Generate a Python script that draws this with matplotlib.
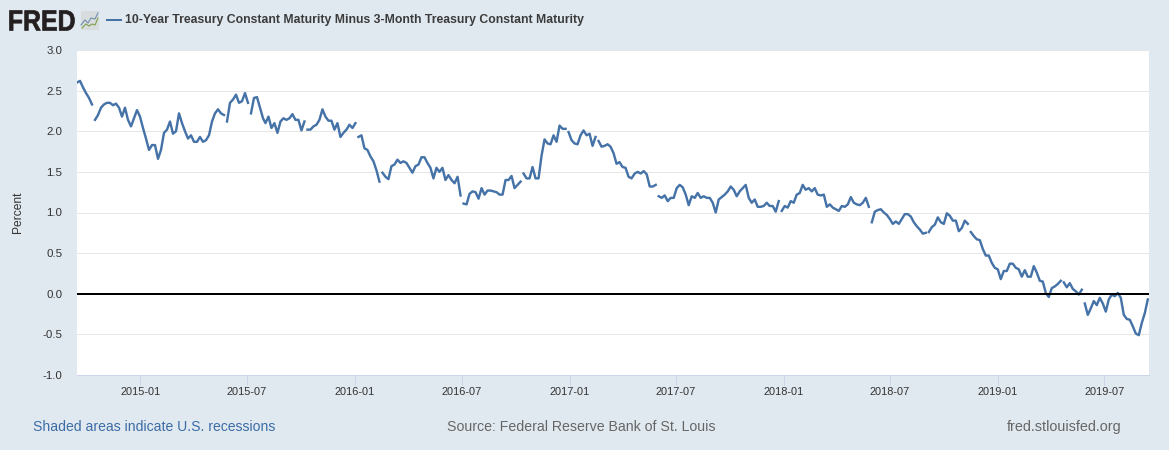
import numpy as np
import pandas as pd
import matplotlib
matplotlib.use("Agg")
import matplotlib.pyplot as plt
import matplotlib.dates as mdates
from matplotlib.patches import FancyBboxPatch, PathPatch
from matplotlib.lines import Line2D
from matplotlib.textpath import TextPath
from matplotlib.font_manager import FontProperties
from matplotlib.transforms import Affine2D

W, H = 1169, 450
TITLE = "10-Year Treasury Constant Maturity Minus 3-Month Treasury Constant Maturity"
Y_TICKS = [-1.0, -0.5, 0.0, 0.5, 1.0, 1.5, 2.0, 2.5, 3.0]
X_TICKS = ["2015-01", "2015-07", "2016-01", "2016-07", "2017-01", "2017-07",
           "2018-01", "2018-07", "2019-01", "2019-07"]
STEP_DAYS = 5.11
N = None

start_a = "2014-09-15"
vals_a = [2.60, 2.62, 2.54, 2.47, 2.41, 2.33, N, 2.14, 2.20, 2.29, 2.33, 2.35, 2.35, 2.32, 2.34,
          2.29, 2.18, 2.29, 2.14, 2.06, 2.16, 2.26, 2.18, 2.04, 1.91, 1.77, 1.83, 1.83, 1.66,
          1.77, 1.98, 2.02, 2.12, 1.97, 2.00, 2.22, 2.10, 2.00, 1.91, 1.95, 1.87, 1.87, 1.93,
          1.87, 1.89, 1.95, 2.12, 2.22, 2.27, 2.22, 2.20, N, 2.12, 2.35, 2.39, 2.45, 2.35, 2.37,
          2.47, 2.35, N, 2.22, 2.41, 2.42, 2.29, 2.16]

start_b = "2015-08-02"
vals_b = [2.10, 2.18, 2.04, 2.10, 1.98, 2.12, 2.16, 2.14, 2.16, 2.21, 2.14, 2.14, 2.01, 2.12, N,
          2.02, 2.02, 2.06, 2.08, 2.14, 2.27, 2.18, 2.13, 2.13, 2.02, 2.10, 1.93, 1.98, 2.02,
          2.08, 2.04, 2.10, N, 1.93, 1.95, 1.79, 1.77, 1.69, 1.63, 1.52, 1.38, N, 1.49, 1.44,
          1.41, 1.57, 1.59, 1.65, 1.61, 1.63, 1.61, 1.55, 1.49, 1.57, 1.59, 1.68, 1.68, 1.61,
          1.55, 1.42, 1.55, 1.50, 1.55, 1.40, 1.46]

start_c = "2016-06-14"
vals_c = [1.40, 1.36, 1.44, 1.21, N, 1.11, 1.10, 1.23, 1.26, 1.25, 1.17, 1.30, 1.22, 1.27, 1.27,
          1.26, 1.25, 1.22, 1.22, 1.40, 1.40, 1.45, 1.30, 1.34, 1.38, N, 1.48, 1.42, 1.42, 1.56,
          1.42, 1.42, 1.70, 1.90, 1.85, 1.84, 1.95, 1.87, 2.07, 2.03, 2.03, N, 1.99, 1.89, 1.85,
          1.84, 1.95, 2.01, 1.95, 1.97, 1.82, 1.93, N, 1.88, 1.81, 1.82, 1.84, 1.81, 1.73, 1.60,
          1.62, 1.56, 1.55, 1.44, 1.42]

start_d = "2017-04-22"
vals_d = [1.48, 1.50, 1.48, 1.51, 1.47, 1.32, 1.32, 1.34, N, 1.20, 1.18, 1.21, 1.14, 1.18, 1.18,
          1.30, 1.34, 1.31, 1.22, 1.09, 1.20, 1.18, 1.24, 1.18, 1.20, 1.18, 1.18, 1.12, 1.00,
          1.16, 1.19, 1.22, 1.26, 1.32, 1.28, 1.20, 1.26, 1.30, 1.34, 1.18, 1.12, 1.16, 1.07,
          1.07, 1.08, 1.12, 1.08, 1.08, 1.01, 1.14, N, 1.02, 1.08, 1.06, 1.14, 1.12, 1.22, 1.24,
          1.34, 1.28, 1.30, 1.26, 1.30, 1.22]

start_e = "2018-03-05"
vals_e = [1.21, 1.22, 1.07, 1.10, 1.06, 1.04, 1.02, 1.08, 1.07, 1.10, 1.19, 1.12, 1.10, 1.09,
          1.12, 1.18, 1.07, N, 0.88, 1.01, 1.03, 1.04, 1.00, 0.97, 0.92, 0.86, 0.89, 0.86, 0.92,
          0.98, 0.98, 0.95, 0.88, 0.83, 0.79, 0.74, 0.75, N, 0.76, 0.82, 0.85, 0.94, 0.88, 0.86,
          0.99, 0.96, 0.90, 0.90, 0.77, 0.81, 0.90, 0.86, N, 0.76, 0.71, 0.67, 0.66, 0.55]

start_f = "2018-12-11"
vals_f = [0.47, 0.47, 0.38, 0.32, 0.30, 0.18, 0.28, 0.28, 0.37, 0.37, 0.32, 0.30, 0.21, 0.29,
          0.21, 0.21, 0.34, 0.26, 0.16, 0.15, 0.01, -0.04, 0.07, 0.09, 0.12, 0.16, N, 0.14, 0.08,
          0.13, 0.06, 0.03, -0.01, 0.05, N, -0.12, -0.26, -0.18, -0.09, -0.14, -0.05, -0.12,
          -0.22, -0.07, -0.01, -0.03, 0.01, -0.05, -0.26, -0.31, -0.32, -0.40, -0.49, -0.51,
          -0.36, -0.24, -0.07]


def build(start, vals):
    t0 = pd.Timestamp(start)
    out_d, out_v, k = [], [], 0
    for v in vals:
        if v is None:
            out_d.append(t0 + pd.Timedelta(days=(k - 0.5) * STEP_DAYS))
            out_v.append(np.nan)
        else:
            out_d.append(t0 + pd.Timedelta(days=k * STEP_DAYS))
            out_v.append(v)
            k += 1
    return out_d, out_v


dates, values = [], []
for s, v in [(start_a, vals_a), (start_b, vals_b), (start_c, vals_c),
             (start_d, vals_d), (start_e, vals_e), (start_f, vals_f)]:
    d, y = build(s, v)
    dates += d
    values += y

BG = "#e1e9f0"
LINE = "#4572a7"
AXC = "#ccd6eb"
px = 0.72  # points per pixel at dpi 100

plt.rcParams["font.family"] = ["Liberation Sans", "DejaVu Sans"]
fig = plt.figure(figsize=(W / 100, H / 100), dpi=100, facecolor=BG)


def fx(x):
    return x / W


def fy(y):
    return 1 - y / H


ax = fig.add_axes([fx(77), fy(375), (1149 - 77) / W, 325 / H], facecolor="white")
ax.plot(dates, values, color=LINE, lw=2.4 * px, solid_joinstyle="round", zorder=3)
ax.axhline(0, color="black", lw=2 * px, zorder=4)
ax.set_ylim(-1, 3)
ax.set_xlim(pd.Timestamp("2014-09-15"), pd.Timestamp("2019-09-15"))
ax.set_yticks(Y_TICKS)
ax.set_yticklabels([f"{v:.1f}" for v in Y_TICKS])
ax.set_xticks([mdates.date2num(pd.Timestamp(t + "-01")) for t in X_TICKS])
ax.set_xticklabels(X_TICKS)
ax.grid(axis="y", color="#e6e6e6", lw=1 * px, zorder=1)
for s in ["top", "left", "right"]:
    ax.spines[s].set_visible(False)
ax.spines["bottom"].set_color(AXC)
ax.spines["bottom"].set_linewidth(1 * px)
ax.tick_params(axis="y", length=0, pad=14.5 * px, labelsize=11.5 * px, labelcolor="#333333")
ax.tick_params(axis="x", length=10 * px, width=1 * px, color=AXC, pad=2 * px,
               labelsize=11 * px, labelcolor="#333333")
ax.set_axisbelow(True)

fig.text(fx(18), fy(212), "Percent", rotation=90, ha="center", va="center",
         fontsize=12 * px, color="#333333")

# header: logo wordmark, squeezed to the reference width
logo = TextPath((0, 0), "FRED", size=29, prop=FontProperties(family="Liberation Sans", weight="bold"))
bb = logo.get_extents()
logo_tf = Affine2D().translate(-bb.x0, -bb.y0).scale(65 / bb.width, 20 / bb.height).translate(9.5, H - 30.5)
fig.add_artist(PathPatch(logo, transform=logo_tf, facecolor="#231f20", edgecolor="#231f20", lw=0.5))
fig.add_artist(FancyBboxPatch((fx(81), fy(30)), 18 / W, 19 / H, boxstyle="round,pad=0,rounding_size=0.002",
                              transform=fig.transFigure, facecolor="#d8dcdc", edgecolor="none"))
fig.add_artist(Line2D([fx(v) for v in (81, 85, 88, 91, 95, 98)],
                      [fy(v) for v in (25, 20, 23, 18, 19, 13)],
                      color="#6d8fb0", lw=0.8))
fig.add_artist(Line2D([fx(v) for v in (82, 86, 89, 92, 95, 98)],
                      [fy(v) for v in (28, 24, 26, 24, 25, 18)],
                      color="#7fa04e", lw=0.8))
fig.add_artist(Line2D([fx(107), fx(121)], [fy(20), fy(20)], color=LINE, lw=2 * px))
fig.text(fx(125), fy(20), TITLE, ha="left", va="center", fontsize=12.28 * px,
         fontweight="bold", color="#3b3b3b")

# footer
fig.text(fx(33), fy(427), "Shaded areas indicate U.S. recessions", ha="left", va="center",
         fontsize=14.05 * px, color="#3b6ca5")
fig.text(fx(447), fy(427), "Source: Federal Reserve Bank of St. Louis", ha="left", va="center",
         fontsize=14.15 * px, color="#666666")
fig.text(fx(1007), fy(427), "fred.stlouisfed.org", ha="left", va="center",
         fontsize=14.35 * px, color="#666666")

fig.savefig("out.png", dpi=100, facecolor=BG)
